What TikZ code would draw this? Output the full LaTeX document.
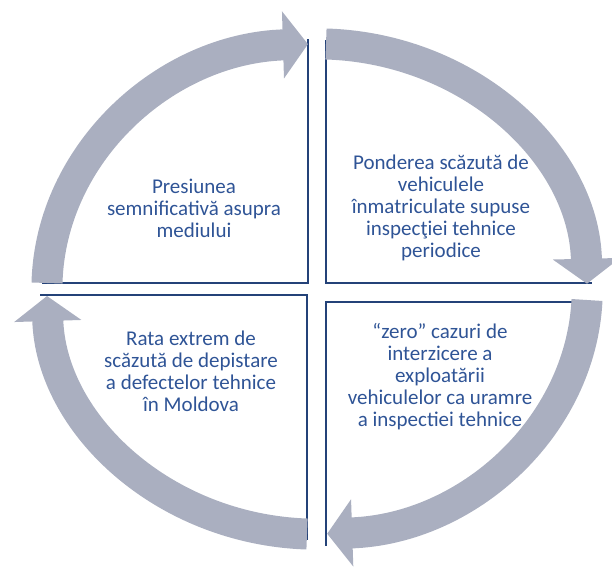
\documentclass[tikz,border=0pt]{standalone}
\usepackage{fontspec}
\setmainfont{Carlito}
\usetikzlibrary{arrows.meta}

\definecolor{arrowgray}{RGB}{170,175,192}
\definecolor{quadblue}{RGB}{36,66,120}
\definecolor{textblue}{RGB}{47,84,150}

\begin{document}
\begin{tikzpicture}[x=1pt,y=-1pt,
    cyclearrow/.style={arrowgray, line width=31pt, -{Triangle[width=66pt,length=25pt]}},
    quadline/.style={quadblue, line width=1.6pt},
    quadtext/.style={textblue, align=center, font=\fontsize{21}{22}\selectfont}]
    \useasboundingbox (0,0) rectangle (612,570);

    % quadrant borders
    \draw[quadline] (308,39) -- (308,283) -- (42,283);
    \draw[quadline] (326,40) -- (326,283) -- (592,283);
    \draw[quadline] (592,302) -- (326,302) -- (326,546);
    \draw[quadline] (40,295) -- (307,295) -- (307,540);

    % the cycle, clockwise
    \coordinate (tlstart) at (47,283);
    \coordinate (trstart) at (326,44);
    \coordinate (brstart) at (587,300);
    \coordinate (blstart) at (307,534);
    \draw[cyclearrow] (tlstart) arc[start angle=181.4, end angle=268.1, x radius=270, y radius=245];
    \draw[cyclearrow] (trstart) arc[start angle=271.9, end angle=358.8, x radius=270, y radius=245];
    \draw[cyclearrow] (brstart) arc[start angle=2.6, end angle=87.9, x radius=270, y radius=245];
    \draw[cyclearrow] (blstart) arc[start angle=92.1, end angle=178.4, x radius=270, y radius=245];

    \node[quadtext] (pressure) at (194,208) {Presiunea\\semnificativă asupra\\mediului};
    \node[quadtext] (share) at (441,208) {Ponderea scăzută de\\vehiculele\\înmatriculate supuse\\inspecţiei tehnice\\periodice};
    \node[quadtext] (zero) at (440,377) {“zero” cazuri de\\interzicere a\\exploatării\\vehiculelor ca uramre\\a inspectiei tehnice};
    \node[quadtext] (rate) at (191,371) {Rata extrem de\\scăzută de depistare\\a defectelor tehnice\\în Moldova};
\end{tikzpicture}
\end{document}
